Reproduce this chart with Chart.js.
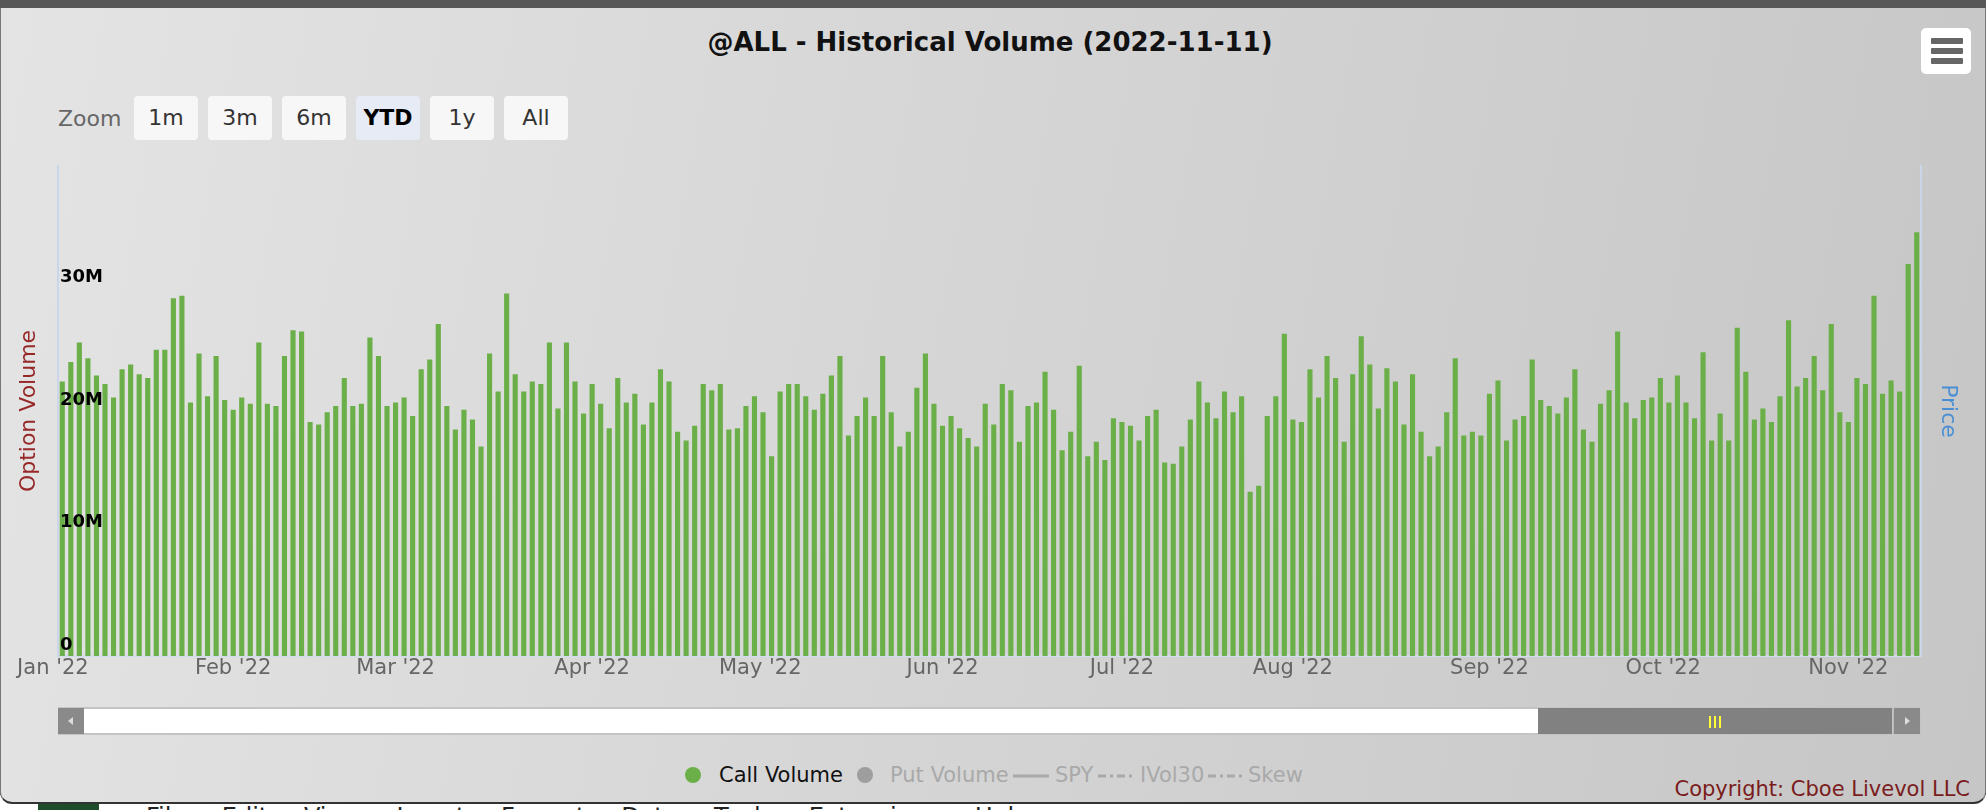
<!DOCTYPE html>
<html>
<head>
<meta charset="utf-8">
<title>@ALL - Historical Volume</title>
<script src="https://cdn.jsdelivr.net/npm/chart.js@4.4.0/dist/chart.umd.min.js"></script>
<style>
  html, body { margin:0; padding:0; width:1986px; height:810px; overflow:hidden; background:#2b2b2b; font-family:"DejaVu Sans", sans-serif; }
  #topbar { position:absolute; left:0; top:0; width:1986px; height:8px; background:#575757; }
  #sheet { position:absolute; left:0; top:795px; width:1986px; height:15px; background:#fff; overflow:hidden; }
  #sheet .green { position:absolute; left:38px; top:0; width:61px; height:15px; background:#1e4d2b; }
  #sheet .menu { position:absolute; left:146px; top:8px; font-size:24px; color:#222; white-space:nowrap; word-spacing:28px; }
  #frame { position:absolute; left:0; top:8px; width:1984px; height:794px; border:1px solid #777; border-top:none; border-bottom:2px solid #333;
           border-radius:0 0 12px 12px; background:linear-gradient(100deg, #e4e4e4 0%, #d6d6d6 45%, #c6c6c6 100%); }
  .abs { position:absolute; }
  #title { left:0; top:26px; width:1980px; text-align:center; font-size:26px; font-weight:bold; color:#111; line-height:32px; }
  #zoomLabel { left:58px; top:97px; font-size:22px; color:#666; line-height:44px; }
  #zoomBtns { left:134px; top:96px; display:flex; gap:10px; }
  #zoomBtns div { width:64px; height:44px; line-height:44px; text-align:center; font-size:22px; color:#333; background:#f7f7f7; border-radius:4px; }
  #zoomBtns div.on { background:#e6ebf5; color:#000; font-weight:bold; }
  #menuBtn { left:1921px; top:28px; width:50px; height:46px; background:#fff; border-radius:5px; }
  #menuBtn span { position:absolute; left:10px; width:32px; height:6px; background:#666; border-radius:1px; }
  #chartBox { left:0; top:150px; width:1986px; height:540px; }
  #scroll { left:58px; top:707px; width:1863px; height:28px; background:#c4c4c4; }
  #scroll .btn { position:absolute; top:1px; width:26px; height:26px; background:#8a8a8a; }
  #scroll .track { position:absolute; left:26px; top:2px; width:1454px; height:24px; background:#fff; }
  #scroll .thumb { position:absolute; left:1480px; top:1px; width:354px; height:26px; background:#818181; }
  #scroll .grip { position:absolute; top:8px; width:2px; height:12px; background:#ffff33; }
  #legend { left:0; top:762px; height:26px; width:1986px; font-size:21px; line-height:26px; }
  #legend .item { position:absolute; top:0; white-space:nowrap; }
  #legend .dot { position:absolute; top:5px; width:16px; height:16px; border-radius:50%; }
  #legend svg { position:absolute; top:0; }
  #copyright { right:16px; top:775px; font-size:21px; color:#7a1c1c; line-height:28px; }
</style>
</head>
<body>
<div id="topbar"></div>
<div id="sheet"><div class="green"></div><div class="menu">File Edit View Insert Format Data Tools Extensions Help</div></div>
<div id="frame"></div>

<div id="title" class="abs">@ALL - Historical Volume (2022-11-11)</div>
<div id="zoomLabel" class="abs">Zoom</div>
<div id="zoomBtns" class="abs"></div>
<div id="menuBtn" class="abs"><span style="top:10px"></span><span style="top:20px"></span><span style="top:30px"></span></div>

<div id="chartBox" class="abs"><canvas id="volChart" width="1986" height="540"></canvas></div>

<div id="scroll" class="abs">
  <div class="btn" style="left:0"><svg width="26" height="26"><path d="M15 9 L10 13 L15 17 Z" fill="#ddd"/></svg></div>
  <div class="track"></div>
  <div class="thumb">
    <div class="grip" style="left:171px"></div><div class="grip" style="left:176px"></div><div class="grip" style="left:181px"></div>
  </div>
  <div class="btn" style="left:1835px;border-left:1px solid #bbb"><svg width="26" height="26"><path d="M11 9 L16 13 L11 17 Z" fill="#ddd"/></svg></div>
</div>

<div id="legend" class="abs"></div>
<div id="copyright" class="abs">Copyright: Cboe Livevol LLC</div>

<script>
// === DATA ===
// call volume per trading day, in millions (2022-01-03 .. 2022-11-11)
const callVolume = [
  22.4, 24.0, 25.6, 24.3, 22.9, 22.2, 21.1, 23.4, 23.8, 23.0, 22.7, 25.0, 25.0, 29.2, 29.4, 20.7, 24.7, 21.2, 24.5, 20.9, 20.1, 21.1, 20.6, 25.6, 20.6, 20.4, 24.5, 26.6, 26.5, 19.1, 18.9,
  19.9, 20.4, 22.7, 20.4, 20.6, 26.0, 24.5, 20.4, 20.7, 21.1, 19.6, 23.4, 24.2, 27.1, 20.4, 18.5, 20.1, 19.3, 17.1, 24.7, 21.6, 29.6, 23.0, 21.6, 22.4, 22.2, 25.6, 20.2, 25.6, 22.4, 19.8,
  22.2, 20.6, 18.6, 22.7, 20.7, 21.4, 18.9, 20.7, 23.4, 22.4, 18.3, 17.6, 18.8, 22.2, 21.7, 22.2, 18.5, 18.6, 20.4, 21.2, 19.9, 16.3, 21.6, 22.2, 22.2, 21.2, 20.1, 21.4, 22.9, 24.5, 18.0,
  19.6, 21.1, 19.6, 24.5, 19.9, 17.1, 18.3, 21.9, 24.7, 20.6, 18.8, 19.6, 18.6, 17.8, 17.1, 20.6, 18.9, 22.2, 21.7, 17.5, 20.4, 20.7, 23.2, 20.1, 16.8, 18.3, 23.7, 16.3, 17.5, 16.0, 19.4,
  19.1, 18.8, 17.6, 19.6, 20.1, 15.8, 15.7, 17.1, 19.3, 22.4, 20.7, 19.4, 21.6, 19.9, 21.2, 13.4, 13.9, 19.6, 21.2, 26.3, 19.3, 19.1, 23.4, 21.1, 24.5, 22.7, 17.5, 23.0, 26.1, 23.8, 20.2,
  23.5, 22.4, 18.9, 23.0, 18.3, 16.3, 17.1, 19.9, 24.3, 18.0, 18.3, 18.0, 21.4, 22.5, 17.6, 19.3, 19.6, 24.2, 20.9, 20.4, 19.8, 21.1, 23.4, 18.5, 17.5, 20.6, 21.7, 26.5, 20.7, 19.4, 20.9,
  21.1, 22.7, 20.7, 22.9, 20.7, 19.4, 24.8, 17.6, 19.8, 17.6, 26.8, 23.2, 19.3, 20.2, 19.1, 21.2, 27.4, 22.0, 22.7, 24.5, 21.7, 27.1, 19.9, 19.1, 22.7, 22.2, 29.4, 21.4, 22.5, 21.6, 32.0, 34.6
];
// month starts on the trading-day (ordinal) axis
const monthTickPos = [-1.1, 20, 39, 62, 81.67, 103, 124, 144, 167, 187.33, 209];
const monthLabels = ["Jan '22", "Feb '22", "Mar '22", "Apr '22", "May '22", "Jun '22", "Jul '22", "Aug '22", "Sep '22", "Oct '22", "Nov '22"];
const yTickValues = [0, 10, 20, 30];
const zoomButtons = ['1m', '3m', '6m', 'YTD', '1y', 'All'];

// === ZOOM BUTTONS ===
document.getElementById('zoomBtns').innerHTML = zoomButtons
  .map(b => `<div class="${b === 'YTD' ? 'on' : ''}">${b}</div>`).join('');

// === LEGEND ===
const legend = document.getElementById('legend');
legend.innerHTML =
  `<div class="dot" style="left:685px;background:#6aaf48"></div>` +
  `<div class="item" style="left:719px;color:#111">Call Volume</div>` +
  `<div class="dot" style="left:857px;background:#9e9e9e"></div>` +
  `<div class="item" style="left:890px;color:#a9a9a9">Put Volume</div>` +
  `<svg style="left:1012px" width="38" height="26"><line x1="1" y1="14" x2="37" y2="14" stroke="#a9a9a9" stroke-width="3"/></svg>` +
  `<div class="item" style="left:1055px;color:#a9a9a9">SPY</div>` +
  `<svg style="left:1097px" width="40" height="26"><line x1="1" y1="14" x2="39" y2="14" stroke="#a9a9a9" stroke-width="3" stroke-dasharray="8 4 3 4"/></svg>` +
  `<div class="item" style="left:1140px;color:#a9a9a9">IVol30</div>` +
  `<svg style="left:1207px" width="40" height="26"><line x1="1" y1="14" x2="39" y2="14" stroke="#a9a9a9" stroke-width="3" stroke-dasharray="8 4 3 4"/></svg>` +
  `<div class="item" style="left:1248px;color:#a9a9a9">Skew</div>`;

// === CHART ===
Chart.defaults.font.family = '"DejaVu Sans", sans-serif';
const ctx = document.getElementById('volChart');
new Chart(ctx, {
  type: 'bar',
  data: {
    datasets: [{
      label: 'Call Volume',
      data: callVolume.map((v, i) => ({ x: i, y: v })),
      backgroundColor: '#6aaf48',
      categoryPercentage: 1,
      barPercentage: 0.6
    }]
  },
  options: {
    responsive: false,
    animation: false,
    layout: { padding: { top: 16, left: 0, right: 0, bottom: 0 } },
    plugins: { legend: { display: false }, tooltip: { enabled: false } },
    scales: {
      x: {
        type: 'linear',
        offset: false,
        min: -0.5,
        max: callVolume.length - 0.5,
        afterBuildTicks: s => { s.ticks = monthTickPos.map(v => ({ value: v })); },
        afterFit: s => { s.height = 34; },
        ticks: {
          autoSkip: false, maxRotation: 0, padding: 0,
          color: '#666', font: { size: 21 },
          callback: (v, i) => monthLabels[i]
        },
        grid: { display: false, drawTicks: false },
        border: { color: '#d3dcec', width: 2 }
      },
      y: {
        min: 0, max: 40,
        afterBuildTicks: s => { s.ticks = yTickValues.map(v => ({ value: v })); },
        afterFit: s => { s.width = 58; },
        ticks: {
          z: 1,
          mirror: true, padding: 2, labelOffset: -11,
          color: '#000', font: { size: 18, weight: 'bold' },
          callback: v => v === 0 ? '0' : v + 'M'
        },
        grid: { display: false, drawTicks: false },
        border: { color: '#ccd6eb', width: 2 },
        title: { display: true, text: 'Option Volume', color: '#962828', font: { size: 22 }, padding: { top: 16, bottom: 0 } }
      },
      y1: {
        position: 'right',
        min: 0, max: 1,
        afterFit: s => { s.width = 65; },
        ticks: { display: false },
        grid: { display: false, drawTicks: false },
        border: { color: '#ccd6eb', width: 2 },
        title: { display: true, text: 'Price', color: '#4a8fd4', font: { size: 22 }, padding: { top: 25, bottom: 0 } }
      }
    }
  }
});
</script>
</body>
</html>
